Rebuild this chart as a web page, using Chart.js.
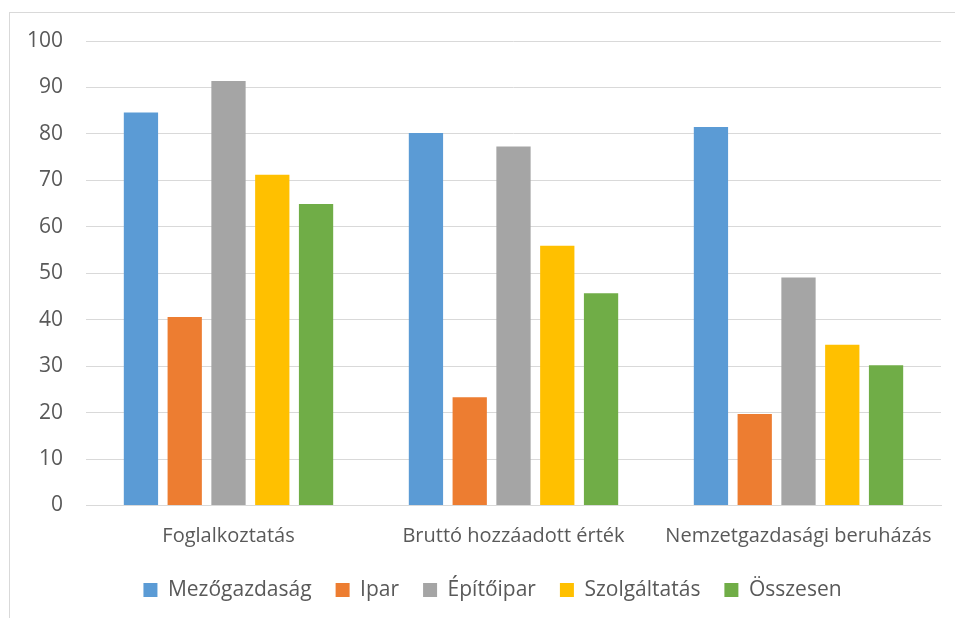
<!DOCTYPE html>
<html>
<head>
<meta charset="utf-8">
<script src="https://cdn.jsdelivr.net/npm/chart.js@4/dist/chart.umd.min.js"></script>
<style>
  html, body { margin: 0; padding: 0; background: #fff; }
  #wrap { position: relative; width: 955px; height: 618px; overflow: hidden; }
  #frame { position: absolute; left: 9px; top: 12px; width: 1000px; height: 700px; border: 1px solid #d9d9d9; }
  canvas { position: absolute; left: 0; top: 0; }
</style>
</head>
<body>
<div id="wrap">
  <div id="frame"></div>
  <canvas id="myChart" width="955" height="618"></canvas>
</div>
<script>
const categories = ["Foglalkoztatás", "Bruttó hozzáadott érték", "Nemzetgazdasági beruházás"];
const seriesNames = ["Mezőgazdaság", "Ipar", "Építőipar", "Szolgáltatás", "Összesen"];
const mezogazdasag = [84.6, 80.2, 81.5];
const ipar = [40.6, 23.3, 19.7];
const epitoipar = [91.4, 77.3, 49.1];
const szolgaltatas = [71.2, 55.9, 34.6];
const osszesen = [64.9, 45.7, 30.2];
const yTicks = [0, 10, 20, 30, 40, 50, 60, 70, 80, 90, 100];

const colors = ["#5B9BD5", "#ED7D31", "#A5A5A5", "#FFC000", "#70AD47"];
const values = [mezogazdasag, ipar, epitoipar, szolgaltatas, osszesen];

const fontFamily = "'Open Sans', Lato, sans-serif";
const textColor = "#595959";

// nudge the legend row a bit to the right of the canvas centre
const legendShift = {
  id: "legendShift",
  afterLayout(chart) {
    chart.legend.left += 17;
    chart.legend.right += 17;
  },
};

const ctx = document.getElementById("myChart").getContext("2d");
const myChart = new Chart(ctx, {
  type: "bar",
  data: {
    labels: categories,
    datasets: seriesNames.map((name, i) => ({
      label: name,
      data: values[i],
      backgroundColor: colors[i],
      borderWidth: 0,
      categoryPercentage: 0.768,
      barPercentage: 0.783,
    })),
  },
  plugins: [legendShift],
  options: {
    responsive: false,
    animation: false,
    layout: {
      padding: { left: 10, top: 41, right: 14, bottom: 7.5 },
    },
    plugins: {
      tooltip: { enabled: false },
      legend: {
        position: "bottom",
        labels: {
          boxWidth: 14,
          boxHeight: 14,
          padding: 24,
          color: textColor,
          font: { family: fontFamily, size: 21 },
        },
      },
    },
    scales: {
      x: {
        grid: { display: false, drawTicks: false },
        border: { display: true, color: "#d9d9d9", width: 1 },
        ticks: {
          padding: 19,
          maxRotation: 0,
          minRotation: 0,
          autoSkip: false,
          color: textColor,
          font: { family: fontFamily, size: 20 },
        },
        afterFit: (scale) => { scale.height = 50; },
      },
      y: {
        min: 0,
        max: 100,
        afterBuildTicks: (scale) => { scale.ticks = yTicks.map((v) => ({ value: v })); },
        grid: { color: "#d9d9d9", lineWidth: 1, drawTicks: false },
        border: { display: false },
        ticks: {
          padding: 23,
          color: textColor,
          font: { family: fontFamily, size: 21 },
        },
        afterFit: (scale) => { scale.width = 76; },
      },
    },
  },
});
</script>
</body>
</html>
